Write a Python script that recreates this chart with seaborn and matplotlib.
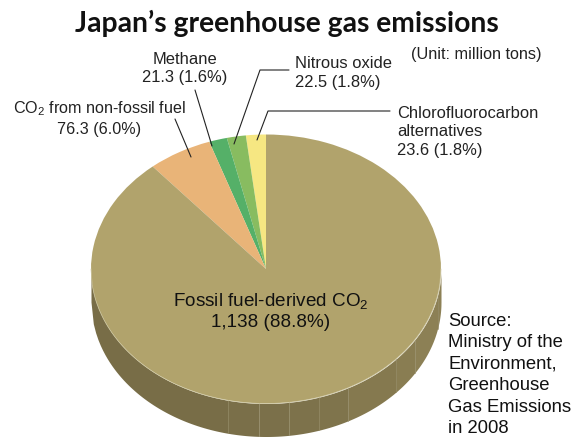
import numpy as np
import matplotlib
matplotlib.use("Agg")
import matplotlib.pyplot as plt
import seaborn as sns

title = "Japan\u2019s greenhouse gas emissions"
categories = ["Chlorofluorocarbon alternatives", "Nitrous oxide", "Methane",
              "CO2 from non-fossil fuel", "Fossil fuel-derived CO2"]
values = [23.6, 22.5, 21.3, 76.3, 1138]
colors = ["#f6e782", "#88bc60", "#55b068", "#e9b478", "#b1a36c"]
facet_edges = [-1.0, -0.22, -0.04, 0.13, 0.30, 0.47, 0.74, 0.85, 0.98, 1.0]
facet_colors = ["#786d47", "#7a6f49", "#7b704a", "#7d724b", "#7f744c", "#85794f",
                "#897d52", "#8c8055", "#8d8156"]

sns.set_theme(style="white")
plt.rcParams["font.family"] = ["Liberation Sans", "DejaVu Sans"]
plt.rcParams["mathtext.fontset"] = "custom"
plt.rcParams["mathtext.rm"] = "Liberation Sans"
plt.rcParams["mathtext.default"] = "rm"

W, H = 582, 437
cx, cy, rx, ry, depth = 266, 269, 175, 134.5, 33
fig = plt.figure(figsize=(W / 100, H / 100), dpi=100)

ax = fig.add_axes([0, 0, 1, 1])
ax.pie(values, colors=sns.color_palette(colors), startangle=90, counterclock=True,
       radius=1, wedgeprops={"linewidth": 0})
ax.set_aspect("auto")
ax.set_xlim(-cx / rx, (W - cx) / rx)
ax.set_ylim((cy - H) / ry, cy / ry)
ax.axis("off")

d = depth / ry
for i, c in enumerate(facet_colors):
    x = np.linspace(facet_edges[i], facet_edges[i + 1], 60)
    y = -np.sqrt(np.clip(1 - x**2, 0, 1))
    ax.fill_between(x, y, y - d, color=c, lw=0, zorder=0.5)
for e in facet_edges[1:-1]:
    y = -np.sqrt(1 - e**2)
    ax.plot([e, e], [y, y - d], color="#958c68", lw=0.5, zorder=0.6)
x = np.linspace(-1, 1, 300)
ax.plot(x, -np.sqrt(1 - x**2), color="#cfc8a2", lw=0.5, zorder=3)

ov = fig.add_axes([0, 0, 1, 1])
ov.set_xlim(0, W)
ov.set_ylim(H, 0)
ov.axis("off")
ov.patch.set_alpha(0)

fs = 11.85
ls = 1.28
ink = "#222222"
ov.text(287, 23, title, ha="center", va="center", fontsize=20.3, fontweight="bold",
        family="Lato", color="#111111")
ov.text(476.5, 55, "(Unit: million tons)", ha="center", va="center", fontsize=11.7, color=ink)
ov.text(185, 68.5, "Methane\n21.3 (1.6%)", ha="center", va="center", fontsize=fs, color=ink, linespacing=ls)
ov.text(295, 73, "Nitrous oxide\n22.5 (1.8%)", ha="left", va="center", fontsize=fs, color=ink, linespacing=ls)
ov.text(397, 132, "Chlorofluorocarbon\nalternatives\n23.6 (1.8%)", ha="left", va="center", fontsize=fs, color=ink, linespacing=ls)
ov.text(99, 118, "CO$_2$ from non-fossil fuel\n76.3 (6.0%)", ha="center", va="center", fontsize=11.6, color=ink, linespacing=1.3)
ov.text(270.5, 311, "Fossil fuel-derived CO$_2$\n1,138 (88.8%)", ha="center", va="center", fontsize=13.6, color="#111111", linespacing=1.26)
ov.text(448, 375, "Source:\nMinistry of the\nEnvironment,\nGreenhouse\nGas Emissions\nin 2008", ha="left", va="center",
        fontsize=13.3, color="#111111", linespacing=1.34)

lc = dict(color=ink, lw=0.8)
ov.plot([175, 191], [119, 157], **lc)
ov.plot([195, 212], [90, 146], **lc)
ov.plot([289, 260, 234], [70, 70, 144], **lc)
ov.plot([390, 268, 257], [111, 111, 140], **lc)
fig.savefig("out.png", dpi=100)
